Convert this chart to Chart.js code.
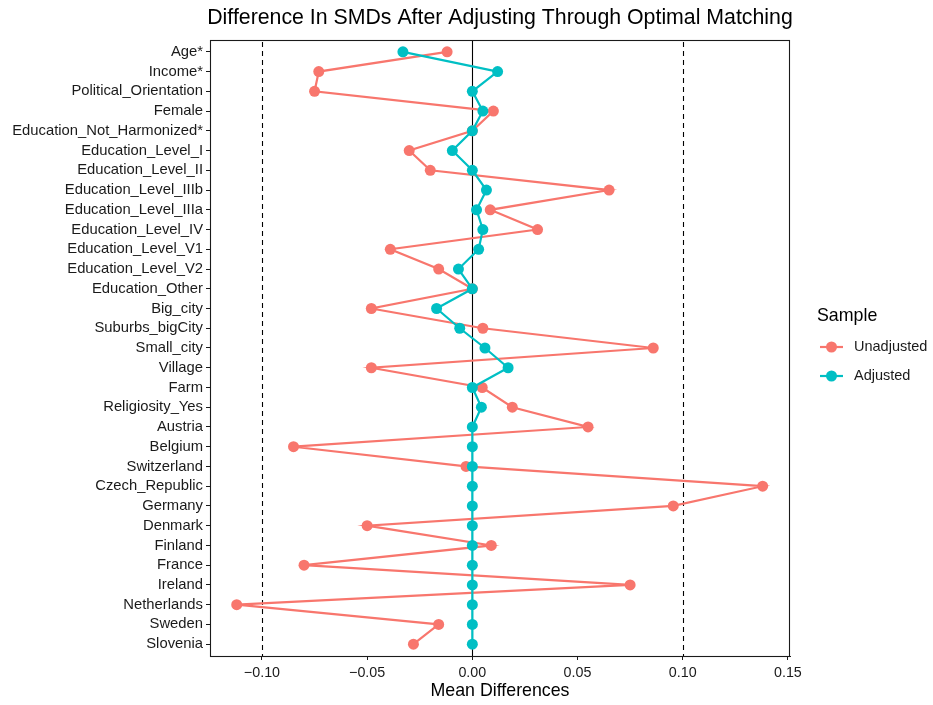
<!DOCTYPE html>
<html>
<head>
<meta charset="utf-8">
<script src="https://cdn.jsdelivr.net/npm/chart.js@4.4.1/dist/chart.umd.min.js"></script>
<style>
  html, body { margin: 0; padding: 0; background: #fff; }
  #chart { display: block; }
</style>
</head>
<body>
<canvas id="chart" width="933" height="705"></canvas>
<script>
'use strict'

// covariates, top to bottom
const covariates = [
    'Age*', 'Income*', 'Political_Orientation', 'Female', 'Education_Not_Harmonized*',
    'Education_Level_I', 'Education_Level_II', 'Education_Level_IIIb', 'Education_Level_IIIa',
    'Education_Level_IV', 'Education_Level_V1', 'Education_Level_V2', 'Education_Other',
    'Big_city', 'Suburbs_bigCity', 'Small_city', 'Village', 'Farm', 'Religiosity_Yes',
    'Austria', 'Belgium', 'Switzerland', 'Czech_Republic', 'Germany', 'Denmark',
    'Finland', 'France', 'Ireland', 'Netherlands', 'Sweden', 'Slovenia'
]

const unadjusted = [
    -0.012, -0.073, -0.075, 0.010, 0.000,
    -0.030, -0.020, 0.065, 0.0085,
    0.031, -0.039, -0.016, 0.000,
    -0.048, 0.005, 0.086, -0.048, 0.0047, 0.019,
    0.055, -0.085, -0.003, 0.138, 0.0955, -0.050,
    0.009, -0.080, 0.075, -0.112, -0.016, -0.028
]

const adjusted = [
    -0.033, 0.012, 0.000, 0.005, 0.000,
    -0.0095, 0.000, 0.0067, 0.002,
    0.005, 0.003, -0.0066, 0.000,
    -0.017, -0.006, 0.006, 0.017, 0.000, 0.0043,
    0, 0, 0, 0, 0, 0,
    0, 0, 0, 0, 0, 0
]

const xTicks = [-0.10, -0.05, 0.00, 0.05, 0.10, 0.15]
const thresholds = [-0.1, 0.1]

const seriesNames = ['Unadjusted', 'Adjusted']
const RED = '#F8766D'
const TEAL = '#00BFC4'
const INK = '#1a1a1a'
const FONT = '"Liberation Sans", Arial, Helvetica, sans-serif'
const TITLE = 'Difference In SMDs After Adjusting Through Optimal Matching'

function toPoints(values) {
    return values.map((v, i) => ({ x: v, y: i }))
}

function fmtTick(v) {
    return v.toFixed(2).replace('-', '\u2212')
}

// reference lines, panel border, title and legend
const panelPlugin = {
    id: 'panel',
    beforeDatasetsDraw(chart) {
        const { ctx, chartArea } = chart
        const xs = chart.scales.x
        ctx.save()
        ctx.strokeStyle = '#000'
        ctx.lineWidth = 1.1
        let x0 = Math.round(xs.getPixelForValue(0)) + 0.5
        ctx.beginPath()
        ctx.moveTo(x0, chartArea.top)
        ctx.lineTo(x0, chartArea.bottom)
        ctx.stroke()

        ctx.setLineDash([5, 4])
        thresholds.forEach(t => {
            let x = Math.round(xs.getPixelForValue(t)) + 0.5
            ctx.beginPath()
            ctx.moveTo(x, chartArea.top + 2)
            ctx.lineTo(x, chartArea.bottom)
            ctx.stroke()
        })
        ctx.restore()
    },
    afterDraw(chart) {
        const { ctx, chartArea } = chart
        ctx.save()
        // border
        ctx.strokeStyle = INK
        ctx.lineWidth = 1.1
        ctx.strokeRect(chartArea.left + 0.5, chartArea.top + 0.5,
            chartArea.right - chartArea.left - 1, chartArea.bottom - chartArea.top)

        // title
        ctx.fillStyle = '#000'
        ctx.font = '21.3px ' + FONT
        ctx.textAlign = 'center'
        ctx.textBaseline = 'middle'
        ctx.fillText(TITLE, (chartArea.left + chartArea.right) / 2, 18)

        // legend
        ctx.textAlign = 'left'
        ctx.font = '17.8px ' + FONT
        ctx.fillText('Sample', 817, 316)
        ctx.font = '14.5px ' + FONT
        const colors = [RED, TEAL]
        seriesNames.forEach((name, i) => {
            let y = 347 + i * 29
            ctx.strokeStyle = colors[i]
            ctx.lineWidth = 2.2
            ctx.beginPath()
            ctx.moveTo(820, y)
            ctx.lineTo(843, y)
            ctx.stroke()
            ctx.fillStyle = colors[i]
            ctx.beginPath()
            ctx.arc(831.5, y, 5.5, 0, Math.PI * 2)
            ctx.fill()
            ctx.fillStyle = INK
            ctx.fillText(name, 854, y)
        })
        ctx.restore()
    }
}

function makeDataset(label, values, color, order) {
    return {
        label,
        data: toPoints(values),
        showLine: true,
        borderColor: color,
        backgroundColor: color,
        borderWidth: 2.2,
        pointRadius: 5.5,
        pointHoverRadius: 5.5,
        pointBorderWidth: 0,
        order
    }
}

new Chart(document.getElementById('chart'), {
    type: 'scatter',
    data: {
        datasets: [
            makeDataset(seriesNames[0], unadjusted, RED, 2),
            makeDataset(seriesNames[1], adjusted, TEAL, 1)
        ]
    },
    options: {
        responsive: false,
        animation: false,
        devicePixelRatio: 1,
        layout: {
            padding: { top: 40, right: 143, bottom: 0, left: 0 }
        },
        plugins: {
            legend: { display: false },
            tooltip: { enabled: false }
        },
        scales: {
            x: {
                type: 'linear',
                min: -0.1247,
                max: 0.151,
                afterBuildTicks(scale) {
                    scale.ticks = xTicks.map(v => ({ value: v }))
                },
                afterFit(scale) {
                    scale.height = 49
                },
                grid: {
                    drawOnChartArea: false,
                    tickLength: 4,
                    color: INK
                },
                border: { display: true, color: INK },
                ticks: {
                    autoSkip: false,
                    maxRotation: 0,
                    padding: 4,
                    color: INK,
                    font: { family: FONT, size: 14.3 },
                    callback: v => fmtTick(v)
                },
                title: {
                    display: true,
                    text: 'Mean Differences',
                    color: '#000',
                    font: { family: FONT, size: 17.8 },
                    padding: { top: 0, bottom: 3 }
                }
            },
            y: {
                type: 'linear',
                min: -0.6,
                max: covariates.length - 0.4,
                reverse: true,
                afterBuildTicks(scale) {
                    scale.ticks = covariates.map((_, i) => ({ value: i }))
                },
                afterFit(scale) {
                    scale.width = 210
                },
                grid: {
                    drawOnChartArea: false,
                    tickLength: 4,
                    color: INK
                },
                border: { display: true, color: INK },
                ticks: {
                    autoSkip: false,
                    padding: 3,
                    color: INK,
                    font: { family: FONT, size: 14.8 },
                    callback: v => covariates[v]
                }
            }
        }
    },
    plugins: [panelPlugin]
})
</script>
</body>
</html>
